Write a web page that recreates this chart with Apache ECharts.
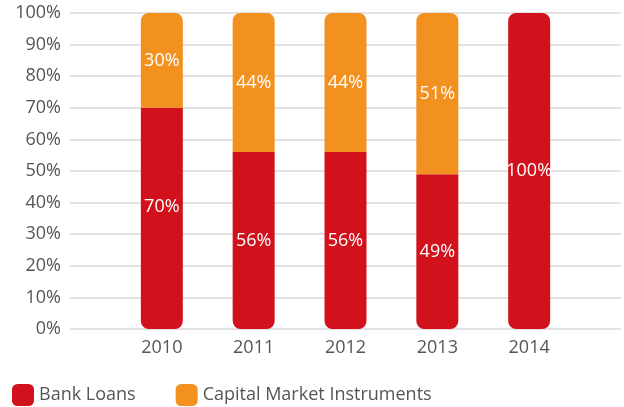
<!DOCTYPE html>
<html>
<head>
<meta charset="utf-8">
<script src="https://cdn.jsdelivr.net/npm/echarts@6/dist/echarts.min.js"></script>
<style>
html,body{margin:0;padding:0;background:#fff;}
#chart{width:624px;height:407px;}
</style>
</head>
<body>
<div id="chart"></div>
<script>
const years = ['2010', '2011', '2012', '2013', '2014'];
const bankLoans = [70, 56, 56, 49, 100];
const capitalMarket = [30, 44, 44, 51, null];
const yTicks = [0, 10, 20, 30, 40, 50, 60, 70, 80, 90, 100];
const seriesNames = ['Bank Loans', 'Capital Market Instruments'];

const RED = '#D1121C';
const ORANGE = '#F29120';
const FONT = '"Open Sans", "Noto Sans", sans-serif';
const FS = 18;

// padded category axis so bars sit on the ticks like the reference
const cats = [''].concat(years, ['']);
function pad(arr) { return [null].concat(arr, [null]); }

const bankData = pad(bankLoans).map((v, i) => {
  if (v == null) return null;
  const yi = i - 1;
  const full = capitalMarket[yi] == null;
  const item = { value: v, itemStyle: { borderRadius: full ? [8, 8, 8, 8] : [0, 0, 8, 8] } };
  if (yi === 0) item.label = { offset: [0, -12] };
  return item;
});
const capData = pad(capitalMarket).map(v => v == null ? null : { value: v, itemStyle: { borderRadius: [8, 8, 0, 0] } });

const chart = echarts.init(document.getElementById('chart'), null, { renderer: 'canvas' });
chart.setOption({
  animation: false,
  textStyle: { fontFamily: FONT },
  grid: { left: 70, right: 0, top: 13, bottom: 78, containLabel: false },
  legend: {
    left: 12, top: 384, padding: 0,
    icon: 'roundRect',
    itemWidth: 22, itemHeight: 22,
    itemGap: 40, itemTextGap: 7,
    textStyle: { color: '#555555', fontSize: FS, fontFamily: FONT },
    data: seriesNames
  },
  xAxis: {
    type: 'category',
    data: cats,
    boundaryGap: false,
    axisLine: { show: false },
    axisTick: { show: false },
    axisLabel: { color: '#555555', fontSize: FS, margin: 10, fontFamily: FONT, interval: 0 },
    splitLine: { show: false }
  },
  yAxis: {
    type: 'value',
    min: yTicks[0], max: yTicks[yTicks.length - 1], interval: 10,
    axisLine: { show: false },
    axisTick: { show: false },
    axisLabel: { color: '#555555', fontSize: FS, margin: 9, fontFamily: FONT, formatter: '{value}%' },
    splitLine: { lineStyle: { color: '#d9d9d9', width: 1.5 } }
  },
  series: [
    {
      name: seriesNames[0], type: 'bar', stack: 'total', barWidth: 42,
      itemStyle: { color: RED },
      label: { show: true, position: 'inside', color: '#fff', fontSize: FS, fontFamily: FONT, formatter: p => p.value + '%' },
      data: bankData
    },
    {
      name: seriesNames[1], type: 'bar', stack: 'total', barWidth: 42,
      itemStyle: { color: ORANGE },
      label: { show: true, position: 'inside', color: '#fff', fontSize: FS, fontFamily: FONT, formatter: p => p.value + '%' },
      data: capData
    }
  ]
});
</script>
</body>
</html>
